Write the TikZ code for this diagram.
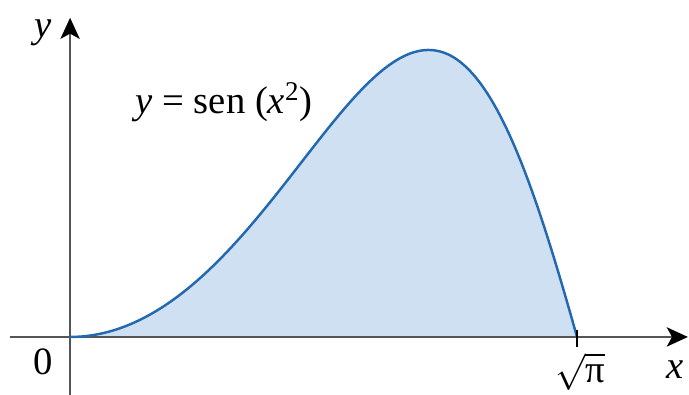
\documentclass[tikz,border=0pt]{standalone}
\usepackage{fontspec}
\setmainfont{Liberation Serif}
\usetikzlibrary{arrows.meta, positioning}

\definecolor{curveblue}{RGB}{35,105,175}
\definecolor{areablue}{RGB}{207,224,243}
\definecolor{axisgray}{RGB}{85,85,85}

\tikzset{
  axis/.style={draw=axisgray, line width=1.1pt, -{Stealth[length=12pt,width=11pt,inset=3pt,black]}},
  lbl/.style={font=\fontsize{22}{26}\selectfont, inner sep=0pt}
}

\begin{document}
\begin{tikzpicture}[x=5.72cm, y=5.74cm]
\useasboundingbox (-0.245,-0.202) rectangle (2.164,1.174);
% area under the curve
\fill [areablue] (0,0) -- plot [domain=0:1.7725, samples=120, smooth] (\x,{sin(deg(\x*\x))}) -- cycle;
% axes
\coordinate (xstart) at (-0.21,0);
\coordinate (xend) at (2.16,0);
\coordinate (ystart) at (0,-0.202);
\coordinate (yend) at (0,1.112);
\draw [axis] (xstart) -- (xend);
\draw [axis] (ystart) -- (yend);
% curve
\draw [curveblue, line width=1.4pt] plot [domain=0:1.7725, samples=120, smooth] (\x,{sin(deg(\x*\x))});
% tick at sqrt(pi)
\coordinate (tickup) at (1.7725,0.024);
\coordinate (tickdown) at (1.7725,-0.035);
\draw [black, line width=1.1pt] (tickup) -- (tickdown);
% labels
\node [lbl] (ylabel) at (-0.095,1.06) {\textit{y}};
\node [lbl] (xlabel) at (2.115,-0.115) {\textit{x}};
\node [lbl] (zero) at (-0.094,-0.087) {0};
\node [lbl] (rootpi) at (1.783,-0.122) {$\sqrt{\mbox{π}}$};
\node [lbl] (formula) at (0.538,0.819) {\textit{y} = sen (\textit{x}\textsuperscript{2})};
\end{tikzpicture}
\end{document}
